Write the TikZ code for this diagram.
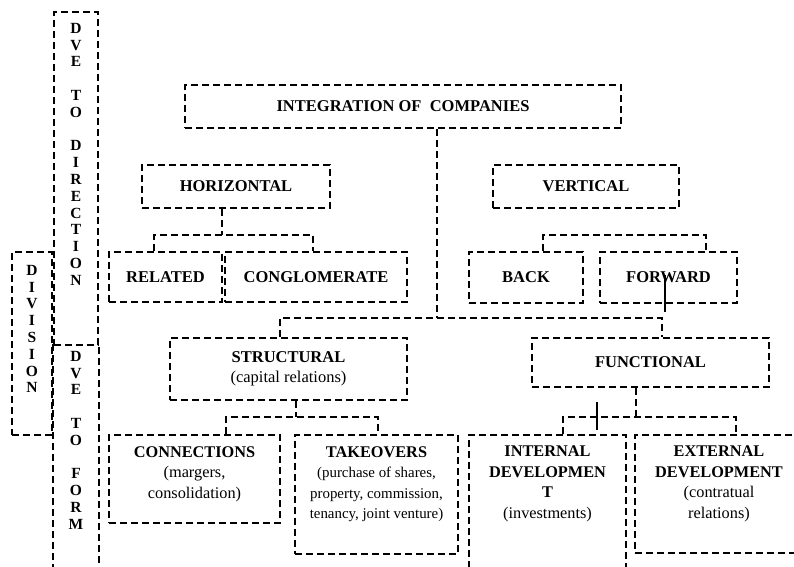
\documentclass[tikz,border=0pt]{standalone}
\usepackage{fontspec}
\setmainfont{Liberation Serif}
\begin{document}
\begin{tikzpicture}[x=1pt,y=-1pt]
\tikzset{
 dl/.style={line width=1.8pt, dash pattern=on 7pt off 4pt, line cap=butt},
 bx/.style={dl, draw, rectangle, inner sep=0pt, font=\fontsize{16.5}{19.5}\selectfont\bfseries, align=center},
 tx/.style={inner sep=0pt, align=center, anchor=north, font=\fontsize{16.3}{20.5}\selectfont},
 vt/.style={inner sep=0pt, align=center, anchor=north, font=\fontsize{15.5}{16.8}\selectfont\bfseries},
 sl/.style={line width=1.2pt}
}
\useasboundingbox (0,0) rectangle (794,566);
\clip (0,0) rectangle (794,566);
% side boxes
\node[bx, minimum width=44pt, minimum height=333pt] (dve1) at (76,178.5) {};
\node[bx, draw=none, minimum width=44pt, minimum height=255pt] (dve2) at (76,472.5) {};
\draw[dl] (dve2.north west) -- (dve2.south west) -- (dve2.south east) -- (dve2.north east);
\node[bx, minimum width=40pt, minimum height=183pt] (divb) at (32,343.5) {};
\node[vt] (dve1t) at (dve1.north |- 0,23) {D\\V\\E\\[16.8pt]T\\O\\[16.8pt]D\\I\\R\\E\\C\\T\\I\\O\\N};
\node[vt] (dve2t) at (dve2.north |- 0,351) {D\\V\\E\\[16.8pt]T\\O\\[16.8pt]F\\O\\R\\M};
\node[vt] (divt) at (divb.north |- 0,265) {D\\I\\V\\I\\S\\I\\O\\N};
% main boxes
\node[bx, minimum width=436pt, minimum height=43pt] (integ) at (403,106.5) {INTEGRATION OF\ \ COMPANIES};
\node[bx, minimum width=188pt, minimum height=43pt] (horiz) at (236,186.5) {HORIZONTAL};
\node[bx, minimum width=186pt, minimum height=43pt] (vert) at (586,186.5) {VERTICAL};
\node[bx, minimum width=113pt, minimum height=50pt] (related) at (165.5,277) {RELATED};
\node[bx, minimum width=182pt, minimum height=50pt] (conglo) at (316,277) {CONGLOMERATE};
\node[bx, minimum width=114pt, minimum height=51pt] (back) at (526,277.5) {BACK};
\node[bx, minimum width=137pt, minimum height=51pt] (forward) at (668.5,277.5) {FORWARD};
\node[bx, minimum width=237pt, minimum height=62pt] (struct) at (288.5,369) {STRUCTURAL\\\mdseries(capital relations)};
\node[bx, minimum width=237pt, minimum height=49pt] (func) at (650.5,362.5) {FUNCTIONAL};
\node[bx, minimum width=171pt, minimum height=88pt] (conn) at (194.5,479) {};
\node[bx, minimum width=163pt, minimum height=119pt] (take) at (376.5,494.5) {};
\node[bx, minimum width=157pt, minimum height=165pt] (intern) at (547.5,517.5) {};
\node[bx, minimum width=168pt, minimum height=118pt] (ext) at (719,494) {};
\node[tx] (connt) at (conn.north |- 0,446) {\textbf{CONNECTIONS}\\(margers,\\consolidation)};
\node[tx] (taket) at (take.north |- 0,446) {\textbf{TAKEOVERS}\\\fontsize{14.9}{20.5}\selectfont(purchase of shares,\\\fontsize{14.9}{20.5}\selectfont property, commission,\\\fontsize{14.9}{20.5}\selectfont tenancy, joint venture)};
\node[tx] (internt) at (intern.north |- 0,446) {\textbf{INTERNAL}\\\textbf{DEVELOPMEN}\\\textbf{T}\\(investments)};
\node[tx] (extt) at (ext.north |- 0,446) {\textbf{EXTERNAL}\\\textbf{DEVELOPMENT}\\(contratual\\relations)};
% connectors
\coordinate (m) at (437,318);
\coordinate (ml) at (280,318);
\coordinate (mr) at (662,318);
\draw[dl] (integ.south -| m) -- (m);
\draw[dl] (struct.north -| ml) |- (mr) -- (func.north -| mr);
\coordinate (h) at (222,235);
\coordinate (hl) at (154,235);
\coordinate (hr) at (313,235);
\draw[dl] (horiz.south -| h) -- (h);
\draw[dl] (related.north -| hl) |- (hr) -- (conglo.north -| hr);
\coordinate (vl) at (543,235);
\coordinate (vr) at (706,235);
\draw[dl] (back.north -| vl) |- (vr) -- (forward.north -| vr);
\coordinate (s) at (296,417);
\coordinate (sl) at (226,417);
\coordinate (sr) at (378,417);
\draw[dl] (struct.south -| s) -- (s);
\draw[dl] (conn.north -| sl) |- (sr) -- (take.north -| sr);
\coordinate (f) at (636,417);
\coordinate (fl) at (563,417);
\coordinate (fr) at (736,417);
\draw[dl] (func.south -| f) -- (f);
\draw[dl] (intern.north -| fl) |- (fr) -- (ext.north -| fr);
% solid strokes
\coordinate (fw1) at (665,275);
\coordinate (fw2) at (665,312);
\draw[sl] (fw1) -- (fw2);
\coordinate (fn1) at (597,402);
\coordinate (fn2) at (597,430);
\draw[sl] (fn1) -- (fn2);
\end{tikzpicture}
\end{document}
